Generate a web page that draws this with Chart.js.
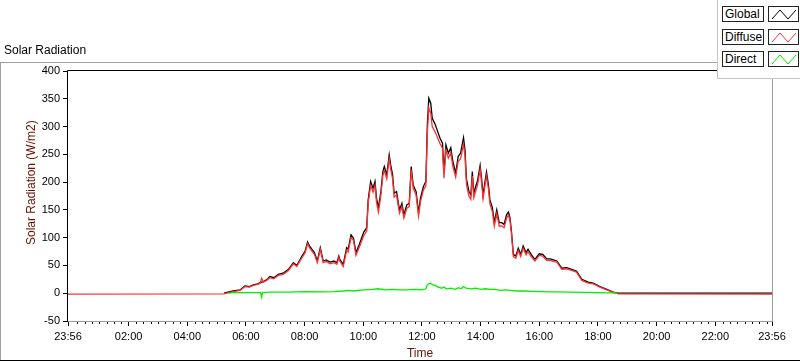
<!DOCTYPE html>
<html>
<head>
<meta charset="utf-8">
<script src="https://cdn.jsdelivr.net/npm/chart.js@4.4.1/dist/chart.umd.min.js"></script>
<style>
  body { margin: 0; background: #fff; font-family: "Liberation Sans", Arial, sans-serif; }
  #wrap { position: relative; width: 800px; height: 361px; overflow: hidden; background: #fff; }
  #wrap canvas { position: absolute; left: 0; top: 0; }
  .line { position: absolute; }
  #title { position: absolute; left: 4px; top: 43px; font-size: 12px; color: #000; }
  #legend { position: absolute; left: 717px; top: 0; width: 83px; height: 79px; background: #fff;
            border-left: 1px solid #c4c4c4; border-bottom: 1px solid #c4c4c4; box-sizing: border-box; }
  .lab { position: absolute; left: 4px; width: 42px; height: 16px; box-sizing: border-box;
         border: 1px solid #222; font-size: 12px; line-height: 14px; padding-left: 2px; background: #fff; }
  .sw { position: absolute; left: 50px; width: 31px; height: 16px; box-sizing: border-box;
        border: 1px solid #222; background: #fff; }
  .sw svg { position: absolute; left: 0; top: 0; }
</style>
</head>
<body>
<div id="wrap">
  <canvas id="solarChart"></canvas>
  <div class="line" style="left:0;top:62px;width:717px;height:1px;background:#a0a0a0"></div>
  <div class="line" style="left:0;top:62px;width:1px;height:298px;background:#a0a0a0"></div>
  <div class="line" style="left:0;top:360px;width:800px;height:1px;background:#000"></div>
  <div id="title">Solar Radiation</div>
  <div id="legend"></div>
</div>
<script>
// Global radiation (black)
const globalTimes = ["05:15","05:34","05:48","05:58","06:07","06:15","06:24","06:29","06:32","06:36","06:42","06:49","06:57",
  "07:06","07:16","07:27","07:37","07:44","07:49","07:54","08:01","08:06","08:10","08:15","08:20","08:26","08:32","08:38",
  "08:44","08:52","09:00","09:06","09:10","09:12","09:19","09:26","09:29","09:35","09:40","09:45","09:52","10:01","10:07",
  "10:10","10:15","10:20","10:24","10:27","10:31","10:36","10:40","10:43","10:48","10:53","10:56","11:00","11:03","11:08",
  "11:14","11:19","11:23","11:29","11:34","11:38","11:42","11:48","11:53","11:57","12:03","12:08","12:11","12:14","12:18",
  "12:21","12:27","12:31","12:37","12:42","12:45","12:49","12:54","12:59","13:03","13:09","13:14","13:19","13:25","13:28",
  "13:31","13:36","13:40","13:43","13:46","13:50","13:54","13:59","14:02","14:05","14:09","14:12","14:16","14:19","14:24",
  "14:28","14:33","14:38","14:43","14:48","14:53","14:57","15:00","15:03","15:07","15:12","15:17","15:22","15:27","15:33",
  "15:37","15:44","15:51","16:00","16:07","16:15","16:22","16:29","16:36","16:46","16:56","17:06","17:16","17:27","17:40",
  "17:50","18:04","18:18","18:31","18:42","23:56"];
const globalValues = [0,4,6,13,12,15,17,19,20,21,24,30,28,
  34,36,43,55,50,58,66,76,92,85,79,73,58,82,58,
  60,56,58,55,67,61,52,82,79,105,99,73,88,110,118,
  168,201,189,201,171,154,183,219,228,213,249,231,213,180,183,
  150,162,141,159,162,228,195,183,145,171,192,201,303,351,342,
  315,304,294,279,270,216,267,252,262,238,216,246,252,280,258,
  206,183,177,219,180,192,204,230,206,177,201,218,195,168,154,
  127,150,127,127,124,141,146,136,112,70,67,81,70,85,73,
  79,69,61,71,70,62,62,60,58,45,46,43,40,25,20,
  18,12,7,2,0,0];

// Diffuse radiation (red), same sample times plus the night before
const diffuseTimes = ["-00:04"].concat(globalTimes);
const diffuseValues = [-1.5,-1,3,5,12,11,14,16,18,27,20,23,28,26,
  32,34,41,53,48,56,63,73,89,82,76,70,55,79,55,
  57,53,55,52,64,58,48,77,74,100,95,68,83,104,112,
  162,194,182,194,164,146,176,212,221,206,242,224,206,173,177,
  144,156,135,153,156,222,189,177,139,165,186,193,288,334,324,
  300,290,282,269,261,207,258,243,253,229,209,237,242,268,247,
  196,175,169,211,172,184,196,223,199,170,194,211,188,161,147,
  121,143,121,121,118,135,141,131,107,66,63,77,66,81,69,
  75,65,58,68,67,59,59,57,56,43,44,41,38,23,18,
  17,11,6,1.5,-1,-1.5];

// Direct radiation (green)
const directTimes = ["05:25","05:34","06:00","06:30","06:32","06:34","06:50","07:30","08:00","08:40","09:00","09:20",
  "09:30","09:40","10:00","10:20","10:30","10:45","11:00","11:15","11:30","11:45","12:00","12:08","12:11","12:14",
  "12:18","12:22","12:27","12:33","12:40","12:45","12:50","13:00","13:08","13:15","13:20","13:25","13:30","13:40",
  "13:50","14:00","14:10","14:20","14:30","14:40","14:50","15:00","15:15","15:30","15:45","16:00","16:30","17:00",
  "17:30","18:00","18:30","18:40"];
const directValues = [0,1,1,1,-7,1,2,2,3,2.5,3,4,
  5,4,6,7,8,6,7,6,6,7,6,8,15,17,
  18,15,14,11,9,11,8,9,7,10,8,12,9,8,
  9,7,8,7,7,5,6,5,4,4,3.5,3,2.5,2,
  1.5,1,0.5,0];

// Axis ticks (minutes from midnight)
const xTickValues = [-4, 120, 240, 360, 480, 600, 720, 840, 960, 1080, 1200, 1320, 1436];
const xTickLabels = ["23:56","02:00","04:00","06:00","08:00","10:00","12:00","14:00","16:00","18:00","20:00","22:00","23:56"];
const yTickLabels = [-50, 0, 50, 100, 150, 200, 250, 300, 350, 400];

const legendNames = ["Global", "Diffuse", "Direct"];
const legendColors = ["#000000", "#ff3030", "#00f000"];

function toMinutes(s) {
  const neg = s[0] === "-";
  const p = s.replace("-", "").split(":");
  const m = parseInt(p[0], 10) * 60 + parseInt(p[1], 10);
  return neg ? -m : m;
}
function points(times, values) {
  return times.map((t, i) => ({ x: toMinutes(t), y: values[i] }));
}

// leyenda
const legend = document.getElementById("legend");
legendNames.forEach((name, i) => {
  const top = 6 + i * 22.5;
  legend.innerHTML +=
    '<div class="lab" style="top:' + top + 'px">' + name + '</div>' +
    '<div class="sw" style="top:' + top + 'px"><svg width="31" height="16">' +
    '<polyline points="3,12 11,3 19,12 27,3" fill="none" stroke="' + legendColors[i] + '" stroke-width="1"/></svg></div>';
});

const frame = {
  id: "frame",
  afterDraw(chart) {
    const { ctx, chartArea: a, scales: { x } } = chart;
    ctx.save();
    ctx.lineWidth = 1;
    // minor ticks every 15 min
    ctx.strokeStyle = "#000";
    ctx.beginPath();
    for (let m = 0; m < 1440; m += 15) {
      if (m % 120 === 0) continue;
      const px = Math.round(x.getPixelForValue(m)) + 0.5;
      ctx.moveTo(px, a.bottom);
      ctx.lineTo(px, a.bottom + 3);
    }
    ctx.stroke();
    // plot border: dark top/left, grey right/bottom
    ctx.strokeStyle = "#9a9a9a";
    ctx.beginPath();
    ctx.moveTo(a.left, a.bottom + 0.5);
    ctx.lineTo(a.right + 0.5, a.bottom + 0.5);
    ctx.lineTo(a.right + 0.5, a.top);
    ctx.stroke();
    ctx.strokeStyle = "#000";
    ctx.beginPath();
    ctx.moveTo(a.left - 0.5, a.bottom);
    ctx.lineTo(a.left - 0.5, a.top - 0.5);
    ctx.lineTo(a.right, a.top - 0.5);
    ctx.stroke();
    ctx.restore();
  }
};

Chart.defaults.font.family = "'Liberation Sans', Arial, sans-serif";
Chart.defaults.font.size = 11;
Chart.defaults.color = "#000";

const ctx = document.getElementById("solarChart").getContext("2d");
new Chart(ctx, {
  type: "line",
  data: {
    datasets: [
      {
        label: "Direct",
        data: points(directTimes, directValues),
        borderColor: legendColors[2],
        borderWidth: 1.3,
        pointRadius: 0,
        tension: 0,
      },
      {
        label: "Diffuse",
        data: points(diffuseTimes, diffuseValues),
        borderColor: legendColors[1],
        borderWidth: 1.3,
        pointRadius: 0,
        tension: 0,
      },
      {
        label: "Global",
        data: points(globalTimes, globalValues),
        borderColor: legendColors[0],
        borderWidth: 1.3,
        pointRadius: 0,
        tension: 0,
      },
    ],
  },
  options: {
    responsive: true,
    maintainAspectRatio: false,
    animation: false,
    layout: { padding: { top: 71, right: 28, left: 0, bottom: 0 } },
    plugins: { legend: { display: false }, tooltip: { enabled: false } },
    scales: {
      x: {
        type: "linear",
        min: -4,
        max: 1436,
        afterFit: (scale) => { scale.height = 40; },
        afterBuildTicks: (scale) => { scale.ticks = xTickValues.map((v) => ({ value: v })); },
        border: { display: false },
        grid: { display: true, drawOnChartArea: false, drawTicks: true, tickLength: 5, color: "#000" },
        ticks: {
          autoSkip: false,
          maxRotation: 0,
          padding: 4,
          callback: (v) => xTickLabels[xTickValues.indexOf(v)],
        },
        title: {
          display: true,
          text: "Time",
          color: "#6a1000",
          font: { size: 12 },
          padding: { top: 0, bottom: 0 },
        },
      },
      y: {
        min: yTickLabels[0],
        max: yTickLabels[yTickLabels.length - 1],
        afterFit: (scale) => { scale.width = 68; },
        afterBuildTicks: (scale) => { scale.ticks = yTickLabels.map((v) => ({ value: v })); },
        border: { display: false },
        grid: { display: true, drawOnChartArea: false, drawTicks: true, tickLength: 5, color: "#000" },
        ticks: { padding: 3 },
        title: {
          display: true,
          // leading spaces lift the label a bit above the axis centre, as in the original
          text: "        Solar Radiation (W/m2)",
          color: "#6a1000",
          font: { size: 12 },
          padding: { top: 24, bottom: 0 },
        },
      },
    },
  },
  plugins: [frame],
});
</script>
</body>
</html>
